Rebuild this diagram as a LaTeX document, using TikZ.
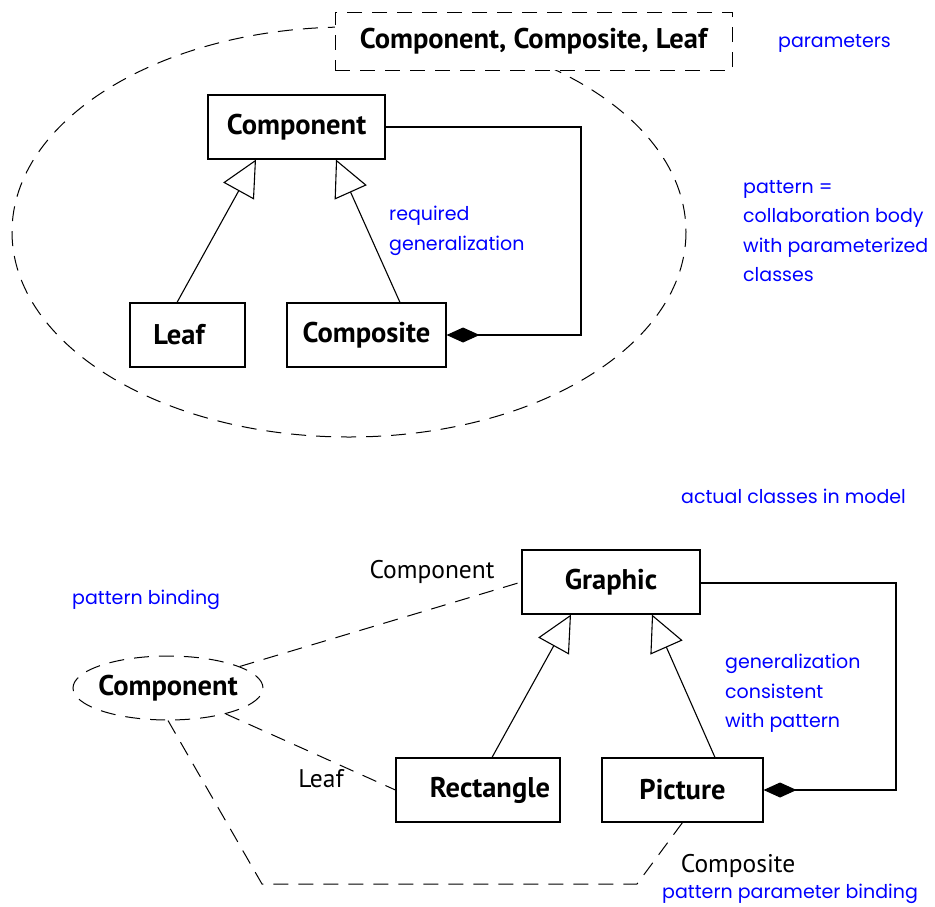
\documentclass[tikz,border=0pt]{standalone}
\usepackage{fontspec}
\setmainfont{PT Sans}
\newfontfamily\bluef{Poppins}
\usetikzlibrary{arrows.meta,shapes.geometric}
\tikzset{
  bigf/.style={font=\fontsize{28.5}{32}\selectfont\bfseries},
  cls/.style={draw,line width=1.1pt,minimum height=64pt,bigf,inner sep=0pt},
  note/.style={text=blue,font=\bluef\fontsize{19}{29.5}\selectfont,align=left,anchor=west,inner sep=0pt},
  lbl/.style={font=\fontsize{25.5}{28}\selectfont,inner sep=0pt},
  dsh/.style={line width=1pt,dash pattern=on 15pt off 10pt},
  gen/.style={line width=1.1pt,-{Triangle[open,length=36pt,width=35pt,line width=1.1pt]}},
  comp/.style={line width=1.1pt,-{Diamond[length=33pt,width=15pt]}},
}
\begin{document}
\begin{tikzpicture}[x=1pt,y=-1pt]
\useasboundingbox (0,0) rectangle (935,906);
% pattern ellipse
\draw[dsh] (349,232) ellipse [x radius=337, y radius=205];
\node[draw,dsh,fill=white,minimum width=397pt,minimum height=58pt,bigf,inner sep=0pt] (params) at (533.5,41) {Component, Composite, Leaf};
% top classes
\node[cls,minimum width=177pt] (component) at (296.5,127) {Component};
\node[cls,minimum width=115pt] (leaf) at (187.5,335) {Leaf\hspace*{17pt}};
\node[cls,minimum width=159pt] (composite) at (366.5,335) {Composite};
\draw[gen] (leaf.north -| 177,0) -- (component.south -| 256,0);
\draw[gen] (composite.north -| 400,0) -- (component.south -| 336,0);
\coordinate (c1) at (581,127);
\coordinate (c2) at (581,335);
\draw[comp] (component.east |- c1) -- (c1) -- (c2) -- (composite.east |- c2);
% notes
\node[note] (n1) at (778,43) {parameters};
\node[note,anchor=north west] (n2) at (389,206) {required\\generalization};
\node[note,anchor=north west] (n3) at (743,180) {pattern =\\collaboration body\\with parameterized\\classes};
\node[note] (n4) at (681,496) {actual classes in model};
\node[note] (n5) at (72,600) {pattern binding};
\node[note,anchor=north west] (n6) at (725,654) {generalization\\consistent\\with pattern};
\node[note] (n7) at (662,894) {pattern parameter binding};
% bottom classes
\node[cls,minimum width=178pt] (graphic) at (611,582) {Graphic};
\node[cls,minimum width=164pt] (rect) at (478,790) {\hspace*{24pt}Rectangle};
\node[cls,minimum width=161pt] (picture) at (682.5,790) {Picture};
\draw[gen] (rect.north -| 492,0) -- (graphic.south -| 571,0);
\draw[gen] (picture.north -| 715,0) -- (graphic.south -| 652,0);
\coordinate (d1) at (896,583);
\coordinate (d2) at (896,790);
\draw[comp] (graphic.east |- d1) -- (d1) -- (d2) -- (picture.east |- d2);
% binding
\node[draw,dsh,ellipse,minimum width=190pt,minimum height=64pt,inner sep=0pt,inner xsep=-3pt,bigf] (cb) at (168,688) {Component};
\draw[dsh] (cb) -- (graphic.west);
\draw[dsh] (cb) -- (rect.west);
\coordinate (b1) at (262,884);
\coordinate (b2) at (637,884);
\draw[dsh] (cb.south) -- (b1) -- (b2) -- (picture.south);
\node[lbl] (l1) at (432,572) {Component};
\node[lbl] (l2) at (321,779) {Leaf};
\node[lbl] (l3) at (738,866) {Composite};
\end{tikzpicture}
\end{document}
